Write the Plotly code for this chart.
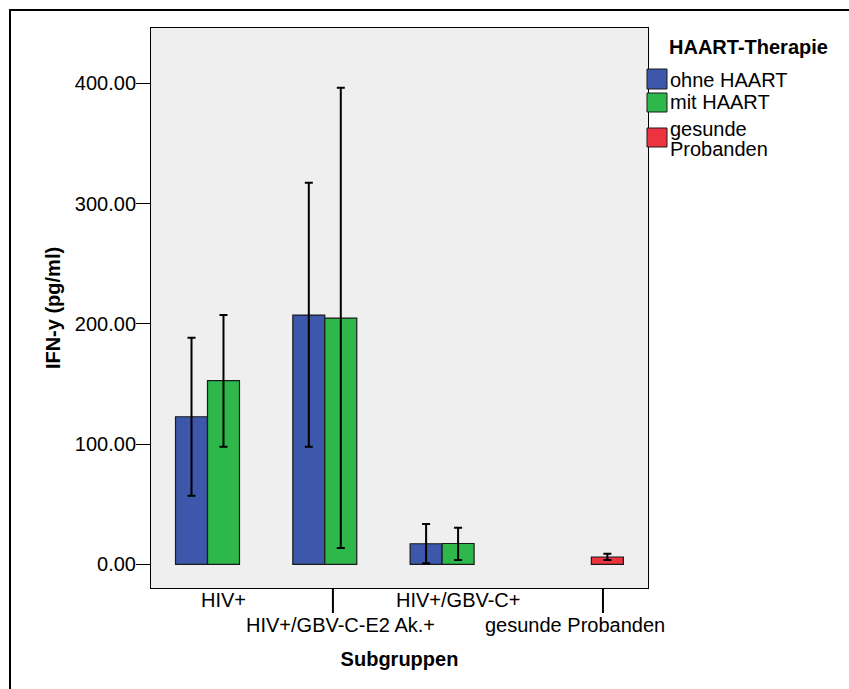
import plotly.graph_objects as go

# ---------------- data ----------------
categories = ["HIV+", "HIV+/GBV-C-E2 Ak.+", "HIV+/GBV-C+", "gesunde Probanden"]
label_row = [0, 1, 0, 1]  # staggered label rows (SPSS style)

series_names = ["ohne HAART", "mit HAART", "gesunde Probanden"]
legend_labels = ["ohne HAART", "mit HAART", "gesunde", "Probanden"]

ohne_mean = [122.7, 207.3, 17.1, None]
ohne_upper = [188.4, 317.3, 33.5, None]
ohne_lower = [57.0, 97.8, 0.8, None]

mit_mean = [152.7, 204.8, 17.3, None]
mit_upper = [207.3, 396.3, 30.4, None]
mit_lower = [97.8, 13.6, 3.6, None]

ges_mean = [None, None, None, 6.1]
ges_upper = [None, None, None, 8.8]
ges_lower = [None, None, None, 3.6]

y_ticks = [0, 100, 200, 300, 400]

colors = ["#3D57AA", "#2EB84C", "#EE3340"]
FONT = "Liberation Sans, Arial, sans-serif"

fig = go.Figure()

def add_series(name, mean, upper, lower, color):
    plus = [None if m is None else u - m for m, u in zip(mean, upper)]
    minus = [None if m is None else m - l for m, l in zip(mean, lower)]
    fig.add_trace(go.Bar(
        x=categories, y=mean, name=name,
        marker=dict(color=color, line=dict(color="#1a1a1a", width=1.2)),
        error_y=dict(type="data", symmetric=False, array=plus, arrayminus=minus,
                     color="black", thickness=2, width=4),
        showlegend=False,
    ))

add_series(series_names[0], ohne_mean, ohne_upper, ohne_lower, colors[0])
add_series(series_names[1], mit_mean, mit_upper, mit_lower, colors[1])
add_series(series_names[2], ges_mean, ges_upper, ges_lower, colors[2])

# ---------------- layout ----------------
W, H = 849, 689
L, R, T, B = 151, 201, 28, 101
pw, ph = W - L - R, H - T - B

def px_x(px):
    return (px - L) / pw

def px_y(py):
    return (H - B - py) / ph

shapes = []
annotations = []

# outer frame (only top/left visible)
shapes.append(dict(type="rect", xref="paper", yref="paper",
                   x0=px_x(10), x1=px_x(880), y0=px_y(720), y1=px_y(10),
                   line=dict(color="black", width=2), fillcolor="rgba(0,0,0,0)", layer="below"))
# long tick lines for the staggered labels
for xv in [0.933, 3.235]:
    shapes.append(dict(type="line", xref="x", yref="paper", x0=xv, x1=xv,
                       y0=0, y1=px_y(613), line=dict(color="black", width=2)))

# category labels (staggered)
row_y = [600, 625]
for cat, row in zip(categories, label_row):
    annotations.append(dict(text=cat, xref="x", yref="paper", x=cat, y=px_y(row_y[row]),
                            xanchor="center", yanchor="middle", showarrow=False,
                            font=dict(family=FONT, size=20, color="black")))

# legend (custom, SPSS style)
annotations.append(dict(text="<b>HAART-Therapie</b>", xref="paper", yref="paper",
                        x=px_x(667), y=px_y(47), xanchor="left", yanchor="middle",
                        showarrow=False, font=dict(family=FONT, size=20, color="black")))
sw_rows = [(69, 89), (93, 112), (128, 147)]
for (y0, y1), c in zip(sw_rows, colors):
    shapes.append(dict(type="rect", xref="paper", yref="paper",
                       x0=px_x(647), x1=px_x(667), y0=px_y(y1), y1=px_y(y0),
                       fillcolor=c, line=dict(color="#1a1a1a", width=1)))
text_rows = [80, 102, 129, 149]
for lab, yc in zip(legend_labels, text_rows):
    annotations.append(dict(text=lab, xref="paper", yref="paper",
                            x=px_x(668), y=px_y(yc), xanchor="left", yanchor="middle",
                            showarrow=False, font=dict(family=FONT, size=20, color="black")))

fig.update_layout(
    width=W, height=H,
    margin=dict(l=L, r=R, t=T, b=B, autoexpand=False),
    paper_bgcolor="white", plot_bgcolor="#EFEFEF",
    barmode="group", bargap=0.182, bargroupgap=0,
    font=dict(family=FONT, size=20, color="black"),
    showlegend=False,
    shapes=shapes, annotations=annotations,
    xaxis=dict(
        type="category", range=[-0.618, 3.619],
        showticklabels=False,
        ticks="", showline=True, linecolor="black", linewidth=1, mirror=True,
        showgrid=False,
        title=dict(text="<b>Subgruppen</b>", font=dict(family=FONT, size=20), standoff=63),
        automargin=False,
    ),
    yaxis=dict(
        range=[-19.7, 446], tickmode="array", tickvals=y_ticks, tickformat=".2f",
        ticks="outside", ticklen=14, tickwidth=1, tickcolor="black",
        ticklabelstandoff=-4,
        showline=True, linecolor="black", linewidth=1, mirror=True,
        showgrid=False, zeroline=False, tickfont=dict(family=FONT, size=20),
        title=dict(text="<b>IFN-y (pg/ml)</b>", font=dict(family=FONT, size=20), standoff=8),
        automargin=False,
    ),
)

fig.write_html("out.html", config={"displayModeBar": False},
               post_script="document.body.style.margin='0';")
